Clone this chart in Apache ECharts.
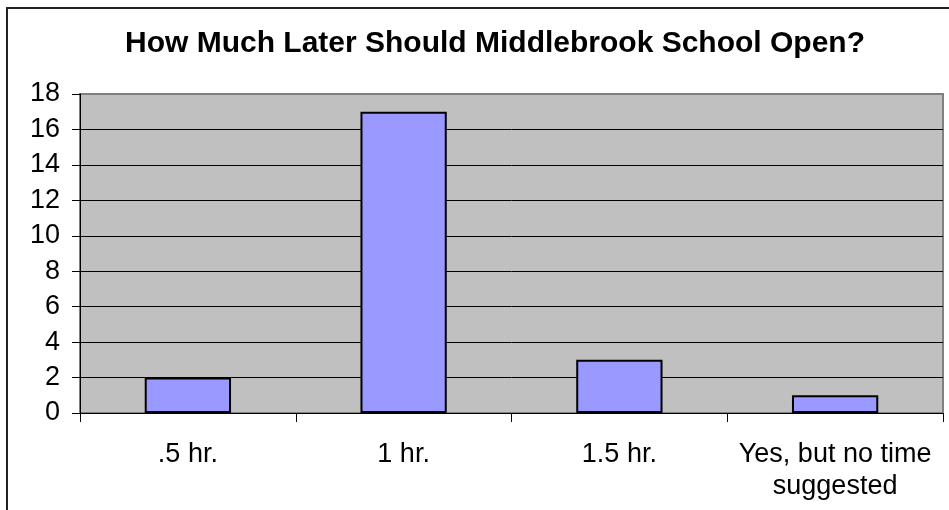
<!DOCTYPE html>
<html>
<head>
<meta charset="utf-8">
<style>
  html, body { margin: 0; padding: 0; background: #fff; }
  #chart { width: 949px; height: 510px; }
</style>
<script src="https://cdn.jsdelivr.net/npm/echarts@6/dist/echarts.min.js"></script>
</head>
<body>
<div id="chart"></div>
<script>
// Survey answers: how much later the school day should start
const categories = ['.5 hr.', '1 hr.', '1.5 hr.', 'Yes, but no time\nsuggested'];
const responses = [2, 17, 3, 1];
const yTicks = [0, 2, 4, 6, 8, 10, 12, 14, 16, 18];

const FONT = '"Liberation Sans", Arial, sans-serif';

// grid lines are black, the top edge of the plot frame is gray
const splitColors = yTicks.map((v, i) => (i === yTicks.length - 1 ? '#808080' : '#000000'));

const chart = echarts.init(document.getElementById('chart'), null, { renderer: 'canvas' });

chart.setOption({
  animation: false,
  backgroundColor: '#ffffff',
  title: {
    text: 'How Much Later Should Middlebrook School Open?',
    left: 490,
    top: 24,
    textAlign: 'center',
    textStyle: { fontFamily: FONT, fontWeight: 'bold', fontSize: 30, color: '#000' }
  },
  graphic: [{
    type: 'rect',
    shape: { x: 7, y: 8, width: 1000, height: 1000 },
    style: { fill: 'none', stroke: '#222', lineWidth: 2 },
    silent: true
  }],
  grid: {
    left: 80, right: 6, top: 94, bottom: 97,
    show: true,
    backgroundColor: '#C0C0C0',
    borderColor: '#808080',
    borderWidth: 2
  },
  xAxis: {
    type: 'category',
    data: categories,
    axisLine: { show: true, lineStyle: { color: '#000', width: 1 } },
    axisTick: { show: true, alignWithLabel: false, length: 9, lineStyle: { color: '#000', width: 1 } },
    axisLabel: {
      interval: 0,
      margin: 26,
      fontFamily: FONT,
      fontSize: 27,
      lineHeight: 32,
      color: '#000',
      align: 'center'
    },
    splitLine: { show: false }
  },
  yAxis: {
    type: 'value',
    min: 0,
    max: 18,
    interval: 2,
    axisLine: { show: true, lineStyle: { color: '#000', width: 1 } },
    axisTick: { show: true, length: 8, lineStyle: { color: '#000', width: 1 } },
    axisLabel: {
      margin: 20,
      fontFamily: FONT,
      fontSize: 27,
      color: '#000',
      formatter: (v) => (yTicks.includes(v) ? String(v) : '')
    },
    splitLine: { show: true, lineStyle: { color: splitColors, width: 1 } }
  },
  series: [{
    type: 'bar',
    data: responses,
    barWidth: '40%',
    itemStyle: { color: '#9999FF', borderColor: '#000', borderWidth: 2 }
  }]
});
</script>
</body>
</html>
